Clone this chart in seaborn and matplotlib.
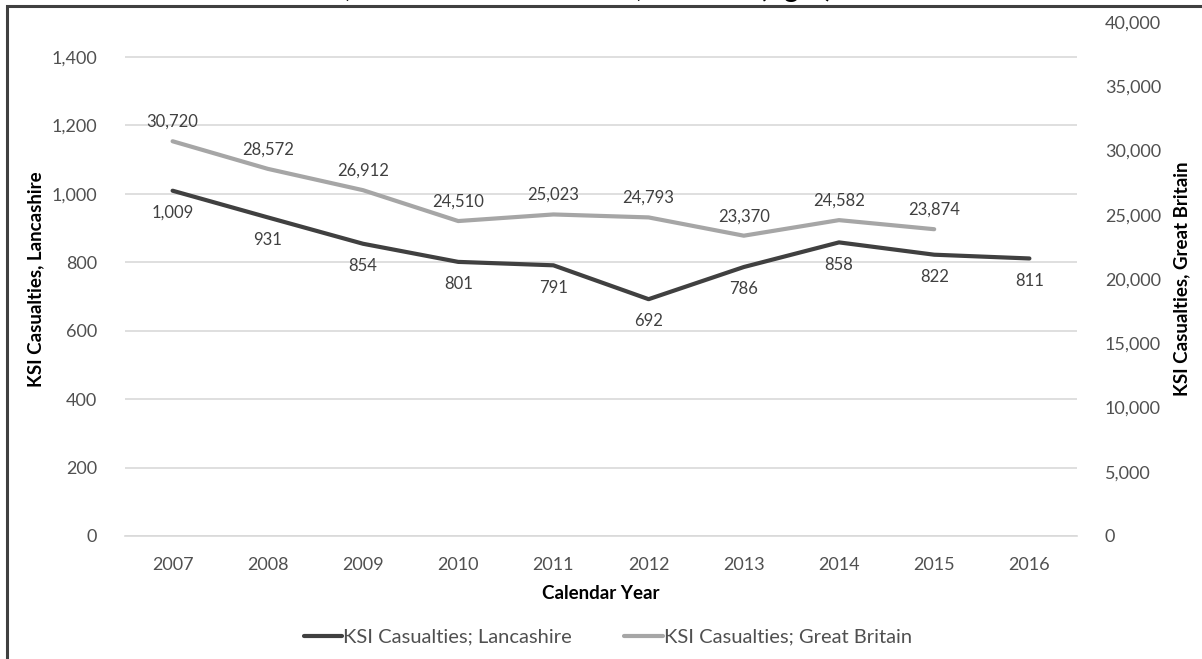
import matplotlib
matplotlib.use("Agg")
import matplotlib.pyplot as plt
import matplotlib.ticker as mticker
from matplotlib.patches import Rectangle
import seaborn as sns
import pandas as pd

# KSI casualties by calendar year
years = [2007, 2008, 2009, 2010, 2011, 2012, 2013, 2014, 2015, 2016]
lancashire = [1009, 931, 854, 801, 791, 692, 786, 858, 822, 811]
gb_years = [2007, 2008, 2009, 2010, 2011, 2012, 2013, 2014, 2015]
great_britain = [30720, 28572, 26912, 24510, 25023, 24793, 23370, 24582, 23874]

left_ticks = [0, 200, 400, 600, 800, 1000, 1200, 1400]
right_ticks = [0, 5000, 10000, 15000, 20000, 25000, 30000, 35000, 40000]

lanc_label = "KSI Casualties; Lancashire"
gb_label = "KSI Casualties; Great Britain"
title_lead = "KSI Casualties"
title = "KSI Casualties, Lancashire 2007-2016, GB total (right)"

sns.set_theme(style="white")
plt.rcParams["font.family"] = ["Lato", "DejaVu Sans"]

DARK = "#404040"
LIGHT = "#a6a6a6"
TICK = "#505050"
GRID = "#d9d9d9"

W, H = 1202, 659
fig = plt.figure(figsize=(W / 100, H / 100), dpi=100)
ax = fig.add_axes([125 / W, 1 - 536 / H, (1077 - 125) / W, (536 - 22) / H])
ax2 = ax.twinx()

df_l = pd.DataFrame({"year": years, "value": lancashire})
df_g = pd.DataFrame({"year": gb_years, "value": great_britain})

sns.lineplot(data=df_l, x="year", y="value", ax=ax, color=DARK, linewidth=3.0,
             label=lanc_label, legend=False)
sns.lineplot(data=df_g, x="year", y="value", ax=ax2, color=LIGHT, linewidth=3.0,
             label=gb_label, legend=False)

ax.set_xlim(years[0] - 0.5, years[-1] + 0.5)
ax.set_ylim(0, 1502)
ax2.set_ylim(0, 40000)
ax.set_xticks(years)
ax.set_yticks(left_ticks)
ax2.set_yticks(right_ticks)
fmt = mticker.FuncFormatter(lambda v, p: f"{int(v):,}")
ax.yaxis.set_major_formatter(fmt)
ax2.yaxis.set_major_formatter(fmt)

ax.grid(axis="y", color=GRID, linewidth=1.2)
ax.set_axisbelow(True)
ax2.grid(False)
for a in (ax, ax2):
    for s in a.spines.values():
        s.set_visible(False)
ax.spines["bottom"].set_visible(True)
ax.spines["bottom"].set_color(GRID)
ax.spines["bottom"].set_linewidth(1.2)

ax.tick_params(axis="y", length=0, pad=20, labelsize=13, labelcolor=TICK)
ax2.tick_params(axis="y", length=0, pad=20, labelsize=13, labelcolor=TICK)
ax.tick_params(axis="x", length=0, pad=15, labelsize=13, labelcolor=TICK)

ax.set_xlabel("Calendar Year", fontsize=13.5, fontweight="bold", color="black", labelpad=9)
ax.set_ylabel("KSI Casualties, Lancashire", fontsize=13.5, fontweight="bold",
              color="black", labelpad=5)
ax2.set_ylabel("KSI Casualties, Great Britain", fontsize=13.5, fontweight="bold",
               color="black", labelpad=9)

for x, v in zip(years, lancashire):
    ax.annotate(f"{v:,}", (x, v), xytext=(0, -16), textcoords="offset points",
                ha="center", va="center", fontsize=12, color=DARK)
for x, v in zip(gb_years, great_britain):
    ax2.annotate(f"{v:,}", (x, v), xytext=(0, 14), textcoords="offset points",
                 ha="center", va="center", fontsize=12, color=DARK)

handles = [ax.get_lines()[0], ax2.get_lines()[0]]
fig.legend(handles, [lanc_label, gb_label], loc="center",
           bbox_to_anchor=(608 / W, 1 - 637 / H), ncol=2, frameon=False,
           fontsize=14.5, handlelength=1.9, handletextpad=0.05, columnspacing=2.6,
           labelcolor=TICK)

# surrounding frame
fig.patches.append(Rectangle((7 / W, -0.1), 1.2, 1 - 6 / H + 0.1,
                             transform=fig.transFigure, fill=False,
                             edgecolor=DARK, linewidth=2.2))

# heading line sitting just above the top edge; its first comma lands at x=345
renderer = fig.canvas.get_renderer()
probe = fig.text(0, 0, title_lead, fontsize=20, fontweight="bold")
lead_w = probe.get_window_extent(renderer).width
probe.remove()
fig.text((345 - lead_w) / W, 1 + 3 / H, title,
         ha="left", va="baseline", fontsize=20, fontweight="bold", color="black")

fig.savefig("out.png", dpi=100)
